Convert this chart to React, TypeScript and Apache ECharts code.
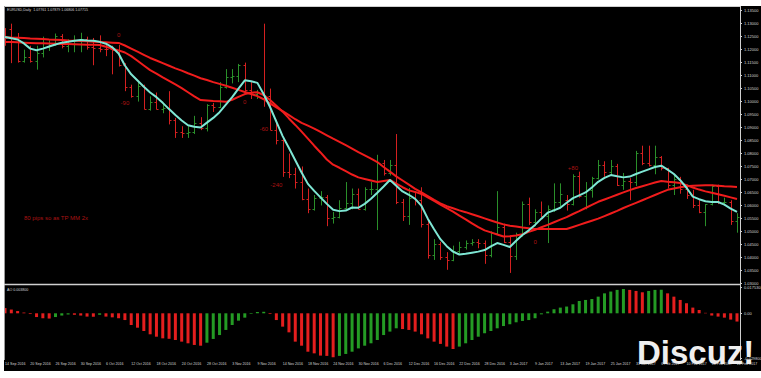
import React, { useEffect, useRef } from 'react';
import * as echarts from 'echarts';

const dateLabels = ['14 Sep 2016','20 Sep 2016','26 Sep 2016','30 Sep 2016','6 Oct 2016','12 Oct 2016','18 Oct 2016','24 Oct 2016','28 Oct 2016','3 Nov 2016','9 Nov 2016','14 Nov 2016','18 Nov 2016','24 Nov 2016','30 Nov 2016','6 Dec 2016','12 Dec 2016','16 Dec 2016','22 Dec 2016','28 Dec 2016','3 Jan 2017','9 Jan 2017','13 Jan 2017','19 Jan 2017','25 Jan 2017','31 Jan 2017','6 Feb 2017','10 Feb 2017','16 Feb 2017','22 Feb 2017'];

const opens = [1.1250,1.1280,1.1240,1.1155,1.1170,1.1155,1.1188,1.1210,1.1227,1.1253,
1.1215,1.1220,1.1222,1.1240,1.1210,1.1205,1.1204,1.1201,1.1200,1.1140,
1.1055,1.1022,1.1060,1.0972,1.0997,1.0971,1.0975,1.0928,1.0883,1.0880,
1.0883,1.0917,1.0898,1.0985,1.0980,1.1055,1.1095,1.1100,1.1140,1.1045,
1.1030,1.1035,1.1020,1.0890,1.0852,1.0730,1.0720,1.0690,1.0625,1.0587,
1.0630,1.0632,1.0550,1.0555,1.0590,1.0610,1.0645,1.0588,1.0665,1.0665,
1.0765,1.0725,1.0755,1.0615,1.0560,1.0630,1.0622,1.0530,1.0410,1.0450,
1.0400,1.0390,1.0425,1.0440,1.0455,1.0460,1.0456,1.0410,1.0495,1.0515,
1.0460,1.0405,1.0490,1.0605,1.0535,1.0575,1.0560,1.0585,1.0615,1.0620,
1.0605,1.0715,1.0635,1.0660,1.0705,1.0755,1.0730,1.0750,1.0680,1.0695,
1.0690,1.0800,1.0765,1.0755,1.0785,1.0745,1.0680,1.0700,1.0665,1.0640,
1.0600,1.0575,1.0605,1.0675,1.0615,1.0615,1.0540];

const highs = [1.1283,1.1300,1.1264,1.1200,1.1215,1.1215,1.1250,1.1236,1.1262,1.1260,
1.1240,1.1255,1.1265,1.1250,1.1245,1.1255,1.1220,1.1215,1.1218,1.1148,
1.1065,1.1078,1.1065,1.1020,1.1035,1.0995,1.1040,1.0937,1.0905,1.0905,
1.0945,1.0940,1.0990,1.0995,1.1075,1.1125,1.1125,1.1145,1.1150,1.1075,
1.1045,1.1300,1.1050,1.0930,1.0855,1.0800,1.0745,1.0750,1.0665,1.0640,
1.0655,1.0640,1.0575,1.0620,1.0690,1.0665,1.0665,1.0670,1.0690,1.0795,
1.0775,1.0775,1.0875,1.0625,1.0667,1.0655,1.0670,1.0540,1.0470,1.0460,
1.0420,1.0445,1.0460,1.0465,1.0470,1.0470,1.0465,1.0500,1.0655,1.0530,
1.0485,1.0495,1.0615,1.0630,1.0585,1.0615,1.0600,1.0685,1.0685,1.0640,
1.0720,1.0730,1.0690,1.0710,1.0775,1.0770,1.0775,1.0760,1.0725,1.0705,
1.0810,1.0830,1.0830,1.0830,1.0790,1.0745,1.0720,1.0710,1.0680,1.0660,
1.0620,1.0605,1.0680,1.0680,1.0630,1.0620,1.0570];

const lows = [1.1215,1.1148,1.1150,1.1150,1.1150,1.1123,1.1170,1.1195,1.1215,1.1205,
1.1190,1.1190,1.1190,1.1200,1.1140,1.1190,1.1175,1.1105,1.1135,1.1040,
1.1015,1.1000,1.0970,1.0965,1.0970,1.0955,1.0912,1.0860,1.0860,1.0860,
1.0875,1.0890,1.0885,1.0960,1.0975,1.1050,1.1070,1.1075,1.1030,1.1010,
1.1010,1.0980,1.0890,1.0835,1.0710,1.0705,1.0665,1.0620,1.0570,1.0580,
1.0600,1.0520,1.0530,1.0550,1.0585,1.0585,1.0585,1.0580,1.0640,1.0505,
1.0715,1.0715,1.0605,1.0540,1.0525,1.0600,1.0515,1.0395,1.0390,1.0390,
1.0352,1.0385,1.0415,1.0430,1.0445,1.0435,1.0375,1.0400,1.0490,1.0455,
1.0340,1.0390,1.0480,1.0525,1.0520,1.0555,1.0455,1.0575,1.0595,1.0580,
1.0600,1.0630,1.0585,1.0630,1.0700,1.0710,1.0715,1.0675,1.0660,1.0620,
1.0675,1.0755,1.0750,1.0720,1.0735,1.0665,1.0640,1.0645,1.0625,1.0590,
1.0570,1.0520,1.0600,1.0605,1.0600,1.0525,1.0495];

const closes = [1.1245,1.1235,1.1155,1.1170,1.1155,1.1188,1.1210,1.1227,1.1253,1.1215,
1.1220,1.1222,1.1240,1.1210,1.1205,1.1204,1.1201,1.1200,1.1140,1.1055,
1.1022,1.1060,1.0972,1.0997,1.0971,1.0975,1.0928,1.0883,1.0880,1.0883,
1.0917,1.0898,1.0985,1.0980,1.1055,1.1095,1.1100,1.1140,1.1045,1.1030,
1.1035,1.1020,1.0890,1.0852,1.0730,1.0720,1.0690,1.0625,1.0587,1.0630,
1.0632,1.0550,1.0555,1.0590,1.0610,1.0645,1.0588,1.0665,1.0665,1.0765,
1.0725,1.0755,1.0615,1.0560,1.0630,1.0622,1.0530,1.0410,1.0450,1.0400,
1.0390,1.0425,1.0440,1.0455,1.0460,1.0456,1.0410,1.0495,1.0515,1.0460,
1.0405,1.0490,1.0605,1.0535,1.0575,1.0560,1.0585,1.0615,1.0645,1.0605,
1.0715,1.0635,1.0660,1.0705,1.0755,1.0730,1.0750,1.0680,1.0695,1.0690,
1.0800,1.0765,1.0755,1.0785,1.0745,1.0680,1.0700,1.0665,1.0640,1.0600,
1.0575,1.0605,1.0675,1.0615,1.0615,1.0540,1.0555];

const fastLine = [1.1249,1.1244,1.1239,1.1224,1.1204,1.1198,1.1204,1.1212,1.1220,1.1227,
1.1230,1.1234,1.1237,1.1235,1.1234,1.1230,1.1223,1.1209,1.1185,1.1139,
1.1105,1.1081,1.1057,1.1035,1.1017,1.0995,1.0971,1.0948,1.0927,1.0909,
1.0903,1.0900,1.0919,1.0937,1.0959,1.0988,1.1017,1.1050,1.1082,1.1078,
1.1072,1.1028,1.0979,1.0923,1.0867,1.0821,1.0774,1.0727,1.0683,1.0656,
1.0631,1.0606,1.0583,1.0578,1.0580,1.0592,1.0591,1.0606,1.0626,1.0649,
1.0673,1.0698,1.0676,1.0654,1.0641,1.0625,1.0598,1.0549,1.0508,1.0470,
1.0443,1.0422,1.0411,1.0414,1.0418,1.0422,1.0428,1.0442,1.0455,1.0448,
1.0440,1.0464,1.0486,1.0504,1.0525,1.0549,1.0572,1.0581,1.0591,1.0610,
1.0628,1.0639,1.0650,1.0669,1.0691,1.0706,1.0717,1.0712,1.0708,1.0711,
1.0721,1.0730,1.0739,1.0748,1.0753,1.0738,1.0721,1.0697,1.0668,1.0634,
1.0624,1.0616,1.0613,1.0613,1.0603,1.0588,1.0575];

const redFast = [1.1229,1.1229,1.1228,1.1227,1.1226,1.1225,1.1225,1.1224,1.1223,1.1222,
1.1222,1.1221,1.1220,1.1219,1.1219,1.1218,1.1211,1.1204,1.1197,1.1189,
1.1175,1.1157,1.1139,1.1121,1.1108,1.1093,1.1080,1.1066,1.1052,1.1036,
1.1020,1.1006,1.1004,1.1002,1.1001,1.0999,1.1007,1.1018,1.1029,1.1034,
1.1036,1.1025,1.1006,1.0984,1.0961,1.0935,1.0910,1.0884,1.0857,1.0830,
1.0804,1.0777,1.0757,1.0745,1.0732,1.0719,1.0708,1.0702,1.0696,1.0690,
1.0694,1.0698,1.0684,1.0670,1.0658,1.0652,1.0644,1.0631,1.0617,1.0603,
1.0590,1.0576,1.0561,1.0546,1.0531,1.0516,1.0504,1.0496,1.0488,1.0480,
1.0481,1.0484,1.0489,1.0498,1.0506,1.0516,1.0525,1.0535,1.0545,1.0555,
1.0567,1.0578,1.0590,1.0602,1.0614,1.0623,1.0632,1.0641,1.0650,1.0659,
1.0667,1.0674,1.0681,1.0688,1.0694,1.0691,1.0689,1.0686,1.0678,1.0669,
1.0661,1.0654,1.0649,1.0643,1.0637,1.0631,1.0625];

const redSlow = [1.1249,1.1247,1.1246,1.1245,1.1243,1.1242,1.1241,1.1239,1.1238,1.1237,
1.1235,1.1234,1.1233,1.1232,1.1230,1.1229,1.1228,1.1227,1.1226,1.1216,
1.1204,1.1192,1.1180,1.1168,1.1158,1.1148,1.1138,1.1128,1.1119,1.1109,
1.1100,1.1090,1.1083,1.1075,1.1068,1.1061,1.1053,1.1045,1.1037,1.1029,
1.1021,1.1009,1.0993,1.0978,1.0963,1.0948,1.0932,1.0918,1.0907,1.0896,
1.0883,1.0870,1.0857,1.0845,1.0832,1.0819,1.0805,1.0793,1.0780,1.0767,
1.0748,1.0730,1.0712,1.0696,1.0680,1.0664,1.0650,1.0636,1.0621,1.0608,
1.0597,1.0589,1.0581,1.0574,1.0566,1.0558,1.0550,1.0542,1.0534,1.0527,
1.0522,1.0519,1.0515,1.0512,1.0509,1.0509,1.0509,1.0509,1.0509,1.0509,
1.0517,1.0525,1.0533,1.0541,1.0549,1.0559,1.0569,1.0579,1.0590,1.0600,
1.0610,1.0620,1.0630,1.0640,1.0650,1.0660,1.0665,1.0670,1.0674,1.0676,
1.0677,1.0678,1.0678,1.0676,1.0674,1.0673,1.0671];

const aoValues = [0.0035,0.0025,0.0015,0.0005,-0.0005,-0.0025,-0.0033,-0.0035,-0.0025,-0.0015,
-0.0008,-0.0010,-0.0015,-0.0022,-0.0023,-0.0010,-0.0022,-0.0027,-0.0033,-0.0045,
-0.0078,-0.0096,-0.0118,-0.0140,-0.0156,-0.0167,-0.0170,-0.0178,-0.0189,-0.0200,
-0.0211,-0.0216,-0.0196,-0.0171,-0.0145,-0.0111,-0.0078,-0.0049,-0.0029,-0.0004,
0.0008,0.0010,-0.0005,-0.0045,-0.0089,-0.0127,-0.0189,-0.0216,-0.0256,-0.0267,
-0.0282,-0.0284,-0.0293,-0.0284,-0.0271,-0.0256,-0.0234,-0.0216,-0.0200,-0.0178,
-0.0145,-0.0122,-0.0100,-0.0105,-0.0111,-0.0122,-0.0140,-0.0167,-0.0189,-0.0204,
-0.0222,-0.0238,-0.0222,-0.0200,-0.0178,-0.0156,-0.0133,-0.0118,-0.0100,-0.0085,
-0.0073,-0.0060,-0.0051,-0.0045,-0.0033,-0.0007,0.0011,0.0027,0.0038,0.0045,
0.0060,0.0082,0.0089,0.0095,0.0111,0.0133,0.0145,0.0156,0.0162,0.0156,
0.0149,0.0140,0.0149,0.0156,0.0157,0.0133,0.0111,0.0089,0.0067,0.0038,
0.0022,0.0003,-0.0015,-0.0022,-0.0029,-0.0042,-0.0055];

const priceMin = 1.03;
const priceMax = 1.135;
const priceStep = 0.005;
const aoMin = -0.0298;
const aoMax = 0.01753;
const markedPrice = 1.108;

const annotations = [
  { text: '0', i: 18, p: 1.1256, align: 'center' },
  { text: '-90', i: 19, p: 1.0994, align: 'center' },
  { text: '0', i: 38, p: 1.0998, align: 'center' },
  { text: '-60', i: 41, p: 1.0895, align: 'center' },
  { text: '-240', i: 43, p: 1.0679, align: 'center' },
  { text: '+80', i: 90, p: 1.0745, align: 'center' },
  { text: '0', i: 84, p: 1.0459, align: 'center' },
  { text: '80 pips so as TP MM 2x', i: 3, p: 1.0552, align: 'left' },
];

const titleText = 'EURUSD,Daily  1.07761 1.07879 1.06806 1.07715';
const aoTitle = 'AO 0.003800';

const UP = '#2a8f2a';
const DOWN = '#d42020';
const AO_UP = '#249b24';
const AO_DOWN = '#e41e1e';
const CYAN = '#7ee6d4';
const RED = '#f01c1c';
const FRAME = '#cfcfcf';
const TXT = '#d6d6d6';
const FONT = '"Liberation Sans", Arial, sans-serif';

export default function App() {
  const ref = useRef<HTMLDivElement>(null);
  useEffect(() => {
    if (!ref.current) return;
    const chart = echarts.init(ref.current, null, { renderer: 'svg' });
    const cats = closes.map((_, i) => String(i));
    const candles = opens.map((o, i) => [i, o, highs[i], lows[i], closes[i]]);
    const aoData = aoValues.map((v, i) => ({
      value: v,
      itemStyle: { color: i > 0 && v > aoValues[i - 1] ? AO_UP : AO_DOWN },
    }));

    const option: any = {
      animation: false,
      backgroundColor: '#000000',
      grid: [
        { left: 5, width: 732, top: 10.7, height: 272.6, containLabel: false, outerBoundsMode: 'none' },
        { left: 5, width: 732, top: 287, height: 71, containLabel: false, outerBoundsMode: 'none' },
      ],
      xAxis: [
        {
          type: 'category', gridIndex: 0, data: cats, boundaryGap: false,
          axisLine: { show: false }, axisTick: { show: false }, axisLabel: { show: false }, splitLine: { show: false },
        },
        {
          type: 'category', gridIndex: 1, data: cats, boundaryGap: false,
          axisLine: { show: false }, axisTick: { show: false }, splitLine: { show: false },
          axisLabel: {
            show: true, interval: 3, align: 'left', margin: 4, fontSize: 3.6, color: TXT, fontFamily: FONT,
            formatter: (_v: string, idx: number) => (idx % 4 === 0 ? dateLabels[idx / 4] || '' : ''),
          },
        },
      ],
      yAxis: [
        {
          type: 'value', gridIndex: 0, position: 'right', offset: 3,
          min: priceMin, max: priceMax, interval: priceStep,
          axisLine: { show: false },
          axisTick: { show: true, length: 2, lineStyle: { color: FRAME, width: 1 } },
          splitLine: { show: false },
          axisLabel: { fontSize: 4, color: TXT, margin: 4, fontFamily: FONT, formatter: (v: number) => v.toFixed(5) },
        },
        {
          type: 'value', gridIndex: 1, position: 'right', offset: 3,
          min: aoMin, max: aoMax,
          axisLine: { show: false },
          axisTick: { show: true, length: 2, lineStyle: { color: FRAME }, customValues: [aoMax, 0, aoMin] },
          splitLine: { show: false },
          axisLabel: {
            fontSize: 4, color: TXT, margin: 4, fontFamily: FONT, customValues: [aoMax, 0, aoMin],
            formatter: (v: number) => (Math.abs(v) < 1e-9 ? '0.00' : v.toFixed(6)),
          },
        },
      ],
      series: [
        {
          type: 'custom', name: 'bars', xAxisIndex: 0, yAxisIndex: 0, z: 2,
          data: candles,
          encode: { x: 0, y: [1, 2, 3, 4] },
          renderItem: (_params: any, api: any) => {
            const i = api.value(0);
            const o = api.value(1), h = api.value(2), l = api.value(3), c = api.value(4);
            const pH = api.coord([i, h]);
            const pL = api.coord([i, l]);
            const pO = api.coord([i, o]);
            const pC = api.coord([i, c]);
            const x = Math.round(pH[0]) + 0.5;
            const color = c >= o ? UP : DOWN;
            const st = { stroke: color, lineWidth: 1 };
            const yo = Math.round(pO[1]) + 0.5;
            const yc = Math.round(pC[1]) + 0.5;
            return {
              type: 'group',
              children: [
                { type: 'line', shape: { x1: x, y1: pH[1], x2: x, y2: pL[1] }, style: st },
                { type: 'line', shape: { x1: x - 2, y1: yo, x2: x, y2: yo }, style: st },
                { type: 'line', shape: { x1: x, y1: yc, x2: x + 2, y2: yc }, style: st },
              ],
            };
          },
        },
        {
          type: 'line', name: 'slow', xAxisIndex: 0, yAxisIndex: 0, data: redSlow, symbol: 'none', z: 3,
          lineStyle: { color: RED, width: 2 },
        },
        {
          type: 'line', name: 'mid', xAxisIndex: 0, yAxisIndex: 0, data: redFast, symbol: 'none', z: 3,
          lineStyle: { color: RED, width: 2 },
        },
        {
          type: 'line', name: 'fast', xAxisIndex: 0, yAxisIndex: 0, data: fastLine, symbol: 'none', z: 4,
          lineStyle: { color: CYAN, width: 2 },
          markLine: {
            silent: true, symbol: 'none', animation: false,
            lineStyle: { opacity: 0 },
            label: {
              position: 'end', distance: 4, formatter: markedPrice.toFixed(5),
              backgroundColor: '#ffffff', color: '#000000', fontSize: 4, padding: [1, 1], fontFamily: FONT,
            },
            data: [{ yAxis: markedPrice }],
          },
        },
        {
          type: 'scatter', name: 'notes', xAxisIndex: 0, yAxisIndex: 0, z: 5, silent: true,
          symbolSize: 1, itemStyle: { color: 'rgba(0,0,0,0)' },
          data: annotations.map((a) => ({ value: [a.i, a.p], label: { align: a.align } })),
          label: {
            show: true, position: 'inside', color: '#d81818', fontSize: 6, fontFamily: FONT,
            formatter: (p: any) => annotations[p.dataIndex].text,
          },
        },
        {
          type: 'bar', name: 'AO', xAxisIndex: 1, yAxisIndex: 1, data: aoData, barWidth: 3,
        },
      ],
      graphic: {
        elements: [
          { type: 'rect', z: 100, shape: { x: 0, y: 0, width: 761, height: 6 }, style: { fill: '#ffffff' } },
          { type: 'rect', z: 100, shape: { x: 0, y: 0, width: 4, height: 378 }, style: { fill: '#ffffff' } },
          { type: 'rect', z: 100, shape: { x: 0, y: 371, width: 761, height: 7 }, style: { fill: '#ffffff' } },
          { type: 'line', z: 50, shape: { x1: 4, y1: 6.5, x2: 740, y2: 6.5 }, style: { stroke: FRAME, lineWidth: 1 } },
          { type: 'line', z: 50, shape: { x1: 4.5, y1: 6, x2: 4.5, y2: 360 }, style: { stroke: '#9a9a9a', lineWidth: 1 } },
          { type: 'line', z: 50, shape: { x1: 740.5, y1: 6, x2: 740.5, y2: 360 }, style: { stroke: FRAME, lineWidth: 1 } },
          { type: 'line', z: 50, shape: { x1: 4, y1: 284.5, x2: 740, y2: 284.5 }, style: { stroke: FRAME, lineWidth: 1.5 } },
          { type: 'text', z: 50, x: 7, y: 8, style: { text: titleText, fill: TXT, fontSize: 3.6, fontFamily: FONT, verticalAlign: 'top' } },
          { type: 'text', z: 50, x: 7, y: 287.5, style: { text: aoTitle, fill: TXT, fontSize: 3.6, fontFamily: FONT, verticalAlign: 'top' } },
          {
            type: 'text', z: 120, x: 637, y: 336,
            style: {
              text: 'Discuz!', fill: '#efefef', fontSize: 33, fontWeight: 'bold', fontFamily: FONT,
              verticalAlign: 'top', shadowColor: 'rgba(0,0,0,0.7)', shadowBlur: 3,
            },
          },
        ],
      },
    };
    chart.setOption(option);
    return () => chart.dispose();
  }, []);
  return <div ref={ref} style={{ position: 'fixed', left: 0, top: 0, width: 761, height: 378 }} />;
}
